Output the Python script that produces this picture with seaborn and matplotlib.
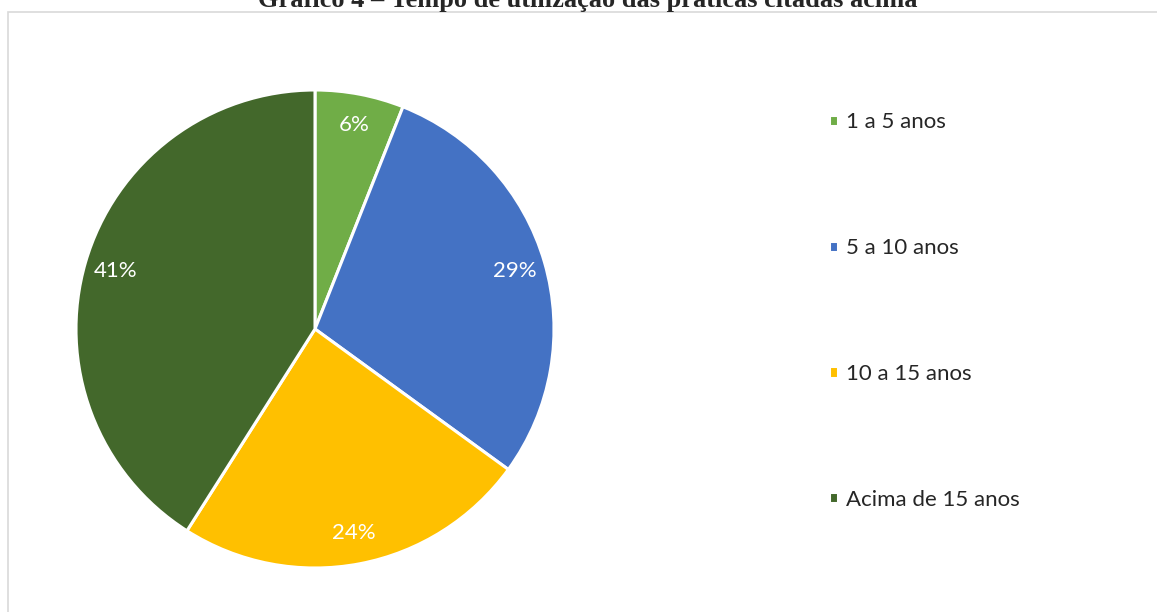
import matplotlib
matplotlib.use('Agg')
import matplotlib.pyplot as plt
import seaborn as sns
from matplotlib.patches import Rectangle

# ── Data ────────────────────────────────────────────────────
categorias = ['1 a 5 anos', '5 a 10 anos', '10 a 15 anos', 'Acima de 15 anos']
percentuais = [6, 29, 24, 41]
cores = ['#70AD47', '#4472C4', '#FFC000', '#43682B']
titulo = 'Gráfico 4 – Tempo de utilização das práticas citadas acima'

sns.set_theme(style='white')
plt.rcParams['font.family'] = ['Lato', 'DejaVu Sans']
palette = sns.color_palette(cores)

fig = plt.figure(figsize=(11.57, 6.12), dpi=100)

# light grey chart-area border (left/top visible, rest runs off the image)
fig.patches.append(Rectangle((8 / 1157, -0.1), 1.2, 1.1 - 12 / 612,
                             transform=fig.transFigure, fill=False,
                             edgecolor='#D9D9D9', linewidth=1.2, zorder=0))

# title, partly cut off at the top
fig.text(588 / 1157, 1 - 7 / 612, titulo, ha='center', va='baseline',
         fontfamily='Liberation Serif', fontweight='bold', fontsize=19)

# pie: centre (315, 329) px, radius 239 px
cx, cy, r = 315, 329, 239
ax = fig.add_axes([(cx - r) / 1157, (612 - cy - r) / 612, 2 * r / 1157, 2 * r / 612])
wedges, _, autotexts = ax.pie(percentuais, colors=palette, startangle=90,
                              counterclock=False, radius=1,
                              autopct=lambda p: f'{p:.0f}%', pctdistance=0.87,
                              wedgeprops=dict(edgecolor='white', linewidth=2.2),
                              textprops=dict(color='white', fontsize=16))
ax.set_xlim(-1, 1)
ax.set_ylim(-1, 1)
ax.set_aspect('equal')
ax.axis('off')

fs = 16
px = fs * 100 / 72
fig.legend(wedges, categorias, loc='center left',
           bbox_to_anchor=(829 / 1157, 1 - 311 / 612),
           frameon=False, fontsize=fs, borderpad=0, borderaxespad=0,
           handlelength=9 / px, handleheight=9 / px, handletextpad=8 / px,
           labelspacing=(125 - 0.87 * px) / px)

plt.savefig('out.png', dpi=100)
plt.close()
